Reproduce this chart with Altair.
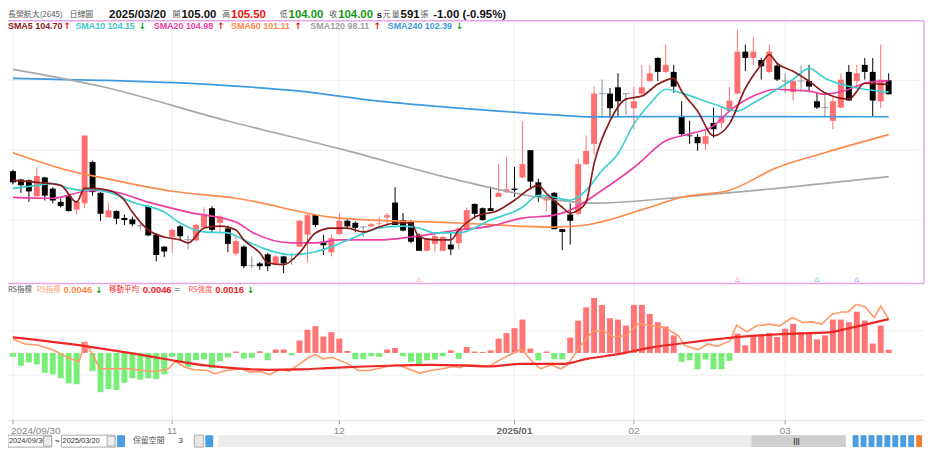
import altair as alt
import pandas as pd

# ---------------- data ----------------
opens = [98.50, 97.90, 97.85, 96.70, 98.05, 97.25, 96.30, 96.70, 95.75, 96.20,
         99.15, 96.95, 95.20, 95.65, 95.15, 95.05, 94.60, 96.00, 93.95, 93.10,
         93.80, 94.55, 93.60, 93.55, 94.50, 95.85, 94.80, 94.40, 92.60, 93.10,
         91.75, 91.90, 92.55, 91.80, 92.40, 92.20, 93.10, 93.95, 95.35, 93.45,
         92.70, 94.00, 94.95, 94.80, 94.50, 94.55, 94.75, 95.20, 96.25, 95.00,
         94.90, 93.95, 92.80, 93.30, 92.80, 93.25, 93.35, 94.30, 96.15, 95.85,
         95.85, 96.65, 97.00, 97.25, 98.05, 100.00, 97.70, 96.40, 96.95, 94.35,
         95.40, 95.45, 99.00, 100.45, 104.05, 104.05, 104.50, 104.05, 103.00, 104.05,
         104.95, 106.60, 105.60, 105.60, 102.45, 101.05, 100.95, 100.45, 101.95, 101.95,
         102.80, 104.05, 107.05, 106.60, 106.45, 105.60, 106.05, 104.95, 104.15, 104.95,
         104.95, 103.50, 103.05, 102.10, 103.05, 105.60, 104.95, 106.10, 105.60, 103.50,
         105.00]
highs = [98.60, 97.95, 97.90, 98.80, 98.10, 97.35, 96.55, 96.75, 96.40, 101.05,
         99.25, 97.00, 96.25, 95.70, 95.40, 95.25, 94.75, 96.05, 94.05, 93.15,
         94.40, 94.65, 93.90, 94.75, 95.90, 96.00, 95.35, 94.60, 93.90, 93.20,
         92.40, 92.00, 92.65, 92.50, 92.45, 92.60, 95.00, 95.50, 95.40, 93.95,
         93.95, 95.50, 95.10, 94.90, 94.55, 94.80, 95.25, 95.50, 97.35, 95.50,
         95.00, 94.05, 93.65, 93.95, 93.85, 94.05, 94.45, 95.90, 96.20, 95.90,
         97.40, 99.00, 99.50, 98.80, 102.05, 100.00, 97.95, 96.75, 97.00, 94.35,
         96.20, 99.40, 101.05, 104.55, 105.05, 104.45, 105.50, 104.10, 104.55, 106.10,
         106.10, 106.65, 107.55, 106.10, 103.50, 102.10, 101.15, 101.40, 103.05, 103.05,
         104.55, 108.60, 107.55, 108.10, 106.60, 107.55, 106.25, 105.50, 105.05, 106.05,
         106.10, 104.10, 104.05, 103.85, 105.50, 106.10, 106.10, 106.60, 106.60, 107.55,
         105.50]
lows = [97.55, 96.95, 96.30, 96.70, 96.40, 96.20, 95.90, 95.60, 95.40, 95.85,
        96.75, 94.95, 95.20, 94.70, 94.65, 94.55, 94.30, 93.85, 92.05, 92.35,
        92.65, 93.55, 92.90, 93.45, 94.40, 94.15, 94.15, 92.70, 92.45, 91.55,
        91.55, 91.45, 91.35, 91.80, 91.20, 91.80, 93.10, 91.95, 94.50, 92.50,
        92.40, 93.95, 94.45, 94.15, 93.80, 94.50, 94.55, 94.55, 94.65, 94.20,
        93.35, 92.80, 92.80, 92.75, 92.80, 92.50, 92.95, 94.30, 95.10, 94.95,
        95.65, 96.65, 96.95, 96.65, 98.00, 97.30, 96.30, 95.60, 94.35, 92.85,
        93.25, 95.35, 98.95, 99.70, 102.30, 102.30, 102.45, 102.55, 101.50, 103.85,
        104.90, 104.95, 105.50, 104.10, 101.00, 100.45, 99.95, 100.00, 100.90, 101.60,
        102.80, 104.00, 105.65, 106.10, 105.05, 105.50, 104.95, 104.10, 103.55, 104.20,
        104.20, 102.95, 102.45, 101.50, 103.00, 103.55, 104.45, 105.05, 102.45, 103.00,
        104.00]
closes = [97.70, 97.50, 97.05, 98.15, 96.75, 96.40, 96.00, 95.65, 96.30, 101.05,
          97.00, 95.45, 95.70, 95.10, 95.00, 94.70, 94.60, 93.90, 92.50, 92.75,
          94.30, 93.85, 93.60, 94.65, 95.35, 94.30, 95.25, 93.30, 93.50, 91.70,
          91.75, 91.70, 91.70, 92.40, 91.90, 92.20, 94.95, 95.35, 94.65, 93.20,
          93.70, 94.95, 94.55, 94.45, 94.50, 94.70, 94.80, 95.35, 94.65, 94.25,
          93.45, 92.80, 93.65, 93.85, 93.80, 92.90, 94.40, 95.70, 95.45, 95.00,
          95.65, 96.95, 97.20, 97.15, 99.00, 97.75, 96.65, 96.65, 94.35, 94.15,
          94.95, 99.00, 99.95, 104.05, 104.05, 103.00, 103.50, 104.05, 103.50, 104.50,
          105.50, 105.60, 106.10, 104.55, 101.15, 101.00, 100.50, 101.00, 101.50, 102.45,
          103.55, 107.05, 106.60, 107.05, 106.00, 107.05, 105.05, 104.95, 104.95, 104.95,
          104.55, 103.05, 103.05, 103.50, 105.05, 103.55, 105.50, 105.60, 103.55, 105.05,
          104.00]

sma5_i = [0, 3, 6, 8, 9, 10, 12, 14, 15, 17, 19, 21, 22, 24, 26, 28, 29, 31, 32, 34,
          36, 38, 40, 42, 44, 46, 48, 50, 51, 53, 55, 56, 58, 61, 63, 66, 67, 69, 70, 71,
          72, 73, 75, 77, 79, 81, 83, 84, 86, 88, 90, 92, 94, 95, 96, 98, 100, 102, 105, 107,
          109, 110]
sma5_v = [97.84, 97.70, 97.48, 96.28, 97.27, 97.27, 97.13, 96.42, 95.57, 94.29, 93.79, 93.58,
          93.37, 94.43, 94.57, 94.29, 93.58, 92.66, 91.95, 91.81, 92.66, 94.08, 94.43, 94.43,
          94.15, 94.50, 94.79, 94.79, 93.79, 93.58, 93.58, 94.29, 95.21, 95.71, 96.42, 97.48,
          96.91, 95.92, 95.50, 95.71, 96.28, 99.04, 102.09, 103.65, 103.87, 104.72, 105.14,
          104.22, 102.80, 101.03, 101.88, 104.43, 106.13, 106.84, 106.21, 105.64, 104.93,
          104.10, 103.65, 104.79, 104.72, 104.70]
sma10_i = [0, 3, 5, 7, 9, 10, 12, 15, 19, 21, 24, 27, 29, 32, 35, 38, 40, 43, 46, 49, 51, 53,
           56, 60, 64, 66, 68, 70, 72, 74, 76, 78, 80, 82, 84, 88, 91, 93, 96, 98, 100, 102,
           105, 107, 110]
sma10_v = [97.27, 97.48, 97.62, 97.27, 97.13, 97.20, 96.99, 96.28, 95.57, 94.79, 94.15, 94.08,
           93.58, 92.87, 92.52, 92.73, 93.09, 93.79, 94.43, 94.57, 94.43, 94.08, 94.08, 95.00,
           95.92, 96.77, 96.63, 96.42, 97.13, 98.55, 99.75, 101.88, 103.30, 104.36, 104.08,
           103.30, 102.80, 103.37, 104.36, 105.07, 105.85, 105.14, 104.57, 104.36, 104.15]
sma20_i = [0, 5, 9, 11, 13, 17, 22, 28, 30, 35, 38, 41, 46, 50, 56, 60, 64, 68, 70, 74, 78,
           82, 85, 88, 90, 93, 96, 98, 100, 102, 105, 107, 110]
sma20_v = [96.63, 96.56, 97.06, 97.13, 96.99, 96.28, 95.57, 94.86, 94.15, 93.37, 93.37, 93.58,
           93.58, 93.79, 94.29, 94.57, 95.14, 95.35, 95.71, 97.13, 98.76, 100.67, 101.17,
           101.74, 102.80, 103.87, 104.36, 104.29, 104.22, 104.01, 104.36, 104.79, 104.98]
sma60_i = [0, 7, 11, 20, 28, 41, 56, 68, 72, 80, 84, 90, 96, 102, 110]
sma60_v = [99.82, 98.55, 98.05, 97.06, 96.56, 95.14, 94.79, 94.50, 94.65, 95.92, 96.63, 97.13,
           98.76, 99.82, 101.11]
sma120_i = [0, 11, 27, 41, 56, 66, 73, 85, 96, 110]
sma120_v = [105.78, 104.57, 102.09, 100.11, 97.84, 96.63, 96.21, 96.70, 97.27, 98.11]
sma240_i = [0, 11, 24, 36, 46, 56, 61, 68, 73, 85, 110]
sma240_v = [105.14, 105.00, 104.72, 104.22, 103.51, 103.01, 102.80, 102.52, 102.38, 102.41, 102.39]

# RS panel (units of 0.0001)
rs_bar = [-20, -65, -48, -58, -100, -108, -128, -153, -158, 55,
          -92, -198, -182, -187, -150, -128, -135, -128, -132, -108,
          -20, -48, -70, -37, -32, -78, -42, -23, 7, -28,
          -25, 8, -37, 17, 17, -12, 63, 117, 135, 83,
          105, 72, 10, -32, -32, -17, -20, 17, 25, -17,
          -45, -65, -37, -33, -17, 13, -30, 30, 7, 5,
          13, 72, 100, 125, 168, 22, -38, 7, -32, -32,
          77, 163, 230, 277, 242, 175, 168, 138, 242, 242,
          197, 155, 133, 88, -45, -37, -82, -33, -82, -82,
          -40, 97, 38, 85, 92, 100, 80, 122, 147, 105,
          105, 68, 88, 168, 168, 155, 208, 163, 47, 138,
          16]
rs_line_i = [0, 1.5, 3.1, 5.2, 7.2, 8.3, 9.1, 10.1, 10.9, 12.6, 14.6, 16.3, 17.9, 19.5, 20.4,
             21.6, 22.8, 24.5, 25.3, 26.9, 28.6, 29.8, 31.0, 32.3, 33.5, 34.7, 36.0, 37.2, 38.0,
             39.0, 40.1, 42.1, 43.4, 44.6, 45.8, 47.5, 48.3, 49.9, 51.1, 52.4, 54.0, 55.3, 56.1,
             57.0, 59.8, 61.4, 63.9, 65.1, 66.3, 67.6, 68.8, 69.6, 71.3, 72.9, 74.1, 75.4, 77.0,
             78.6, 80.3, 81.9, 83.6, 84.4, 86.1, 87.3, 88.5, 90.1, 90.9, 92.2, 93.4, 95.1, 96.3,
             97.9, 99.2, 100.4, 101.6, 102.9, 104.1, 104.9, 105.9, 107.0, 108.2, 109.0, 110.0]
rs_line_v = [18.9, 12.2, 10.8, 3.2, -8.1, -11.7, 14.4, -3.6, -21.6, -21.6, -21.6, -23.9, -25.2,
             -21.6, -11.7, -19.4, -22.9, -23.9, -28.4, -23.9, -21.6, -26.1, -25.2, -29.7, -22.5,
             -24.8, -14.9, -5.9, -2.3, -8.1, -5.9, -14.9, -23.9, -23.9, -21.6, -17.1, -16.2,
             -22.5, -27.5, -23.9, -21.6, -18.5, -20.0, -16.2, -18.0, -8.1, 5.4, -10.4, -21.6,
             -16.2, -21.6, -17.1, 9.9, 30.2, 30.2, 22.1, 23.4, 40.1, 36.9, 34.7, 23.4, 9.9, 4.5,
             12.2, 9.0, 16.7, 37.8, 28.8, 36.9, 39.2, 36.9, 48.2, 41.4, 42.3, 39.2, 52.7, 55.8,
             55.8, 66.2, 63.0, 48.2, 63.9, 46.0]
rs_ma_i = [0, 9.3, 15.4, 19.5, 23.6, 27.7, 31.9, 36.0, 40.1, 44.2, 48.3, 52.4, 56.3, 59.8,
           63.9, 69.2, 72.1, 76.2, 80.3, 84.4, 90.6, 96.7, 102.5, 104.9, 110.0]
rs_ma_v = [21.2, 9.0, -1.4, -9.0, -16.2, -20.7, -23.0, -22.5, -20.3, -18.5, -17.1, -16.2, -17.0,
           -18.5, -14.9, -14.9, -8.1, -1.4, 7.6, 13.5, 21.2, 25.7, 27.9, 33.3, 46.0]

month_idx = [0, 20, 41, 63, 78, 97]
month_lbl = ["2024/09/30", "11", "12", "2025/01", "02", "03"]
price_grid = [95, 100, 105]
rs_grid = [112, -112]
event_idx = [51, 91, 101, 106]
event_col = ["#ffb0a0", "#ff90c8", "#60c8e8", "#b090e8"]

# ---------------- layout / scales ----------------
W, H = 928, 441
X_SC = alt.Scale(domain=[0, 110], range=[0, 893.3], zero=False, nice=False)
P_SC = alt.Scale(domain=[90, 110], range=[282.5, 0.5], zero=False, nice=False)
B_SC = alt.Scale(domain=[-250, 250], range=[396, 296], zero=False, nice=False)
L_SC = alt.Scale(domain=[-67.5, 67.5], range=[396, 296], zero=False, nice=False)
DIR_SC = alt.Scale(domain=["up", "down", "flat"], range=["#ff6f6f", "#000000", "#8a8a8a"])

CJK = "Noto Sans CJK TC"
NUM = "Liberation Sans"

n = len(opens)
cdf = pd.DataFrame({"i": list(range(n)), "o": opens, "h": highs, "l": lows, "c": closes})
cdf["dir"] = ["up" if c > o else ("down" if c < o else "flat") for o, c in zip(opens, closes)]

ma_series = [("SMA240", sma240_i, sma240_v), ("SMA120", sma120_i, sma120_v),
             ("SMA60", sma60_i, sma60_v), ("SMA20", sma20_i, sma20_v),
             ("SMA10", sma10_i, sma10_v), ("SMA5", sma5_i, sma5_v)]
ma_colors = {"SMA240": "#3d9be0", "SMA120": "#a8a8a8", "SMA60": "#ff8a4c",
             "SMA20": "#ec3ea0", "SMA10": "#3cd0d0", "SMA5": "#8a1c1c"}
rows = []
for name, ii, vv in ma_series:
    for a, b in zip(ii, vv):
        rows.append({"s": name, "i": a, "v": b})
madf = pd.DataFrame(rows)

rdf = pd.DataFrame({"i": list(range(n)), "v": rs_bar})
rdf["sg"] = ["p" if v >= 0 else "m" for v in rs_bar]
rldf = pd.DataFrame({"i": rs_line_i, "v": rs_line_v})
rmdf = pd.DataFrame({"i": rs_ma_i, "v": rs_ma_v})
mdf = pd.DataFrame({"i": month_idx, "t": month_lbl})
pgdf = pd.DataFrame({"p": price_grid})
rgdf = pd.DataFrame({"v": rs_grid})
evdf = pd.DataFrame({"i": event_idx, "c": event_col})

one = pd.DataFrame({"d": [0]})


def X(field="i"):
    return alt.X(f"{field}:Q", scale=X_SC, axis=None)


def label(s, x, y, color="#444444", size=10, weight="normal", font=NUM, align="left"):
    return alt.Chart(one).mark_text(text=s, color=color, fontSize=size, fontWeight=weight,
                                    font=font, align=align, baseline="middle").encode(
        x=alt.value(x), y=alt.value(y))


def box(x1, x2, y1, y2, fill, stroke=None):
    kw = {"fill": fill}
    if stroke:
        kw.update(stroke=stroke, strokeWidth=1)
    return alt.Chart(one).mark_rect(**kw).encode(
        x=alt.value(x1), x2=alt.value(x2), y=alt.value(y1), y2=alt.value(y2))


def hline(x1, x2, y, color, w=1):
    return alt.Chart(one).mark_rule(color=color, strokeWidth=w).encode(
        x=alt.value(x1), x2=alt.value(x2), y=alt.value(y))


def vline(x, y1, y2, color, w=1):
    return alt.Chart(one).mark_rule(color=color, strokeWidth=w).encode(
        x=alt.value(x), y=alt.value(y1), y2=alt.value(y2))


layers = []

# grids
layers.append(alt.Chart(pgdf).mark_rule(color="#efefef", strokeWidth=1).encode(
    y=alt.Y("p:Q", scale=P_SC, axis=None), x=alt.value(0), x2=alt.value(924)))
layers.append(alt.Chart(rgdf).mark_rule(color="#efefef", strokeWidth=1).encode(
    y=alt.Y("v:Q", scale=B_SC, axis=None), x=alt.value(0), x2=alt.value(924)))
layers.append(alt.Chart(mdf).mark_rule(color="#eeeeee", strokeWidth=1).encode(
    x=X(), y=alt.value(11), y2=alt.value(414)))

# borders
layers.append(hline(0, 924, 11, "#e6a6e6", 1.5))
layers.append(hline(0, 924, 276, "#e6a6e6", 1.5))
layers.append(vline(924, 11, 276, "#e6a6e6", 1.5))
layers.append(hline(0, 924, 414, "#dddddd", 1))

# candles
layers.append(alt.Chart(cdf).mark_rule(strokeWidth=1).encode(
    x=X(), y=alt.Y("l:Q", scale=P_SC, axis=None), y2="h:Q",
    color=alt.Color("dir:N", scale=DIR_SC, legend=None)))
layers.append(alt.Chart(cdf).transform_filter("datum.dir != 'flat'").mark_bar(size=6).encode(
    x=X(), y=alt.Y("o:Q", scale=P_SC, axis=None), y2="c:Q",
    color=alt.Color("dir:N", scale=DIR_SC, legend=None)))
layers.append(alt.Chart(cdf).transform_filter("datum.dir == 'flat'").mark_tick(
    orient="horizontal", size=7, thickness=1.2, color="#8a8a8a").encode(
    x=X(), y=alt.Y("c:Q", scale=P_SC, axis=None)))

# moving averages
layers.append(alt.Chart(madf).mark_line(strokeWidth=1.7, interpolate="monotone").encode(
    x=X(), y=alt.Y("v:Q", scale=P_SC, axis=None),
    color=alt.Color("s:N", scale=alt.Scale(domain=list(ma_colors.keys()),
                                           range=list(ma_colors.values())), legend=None),
    detail="s:N"))

# event markers at the foot of the price panel
layers.append(alt.Chart(evdf).mark_point(shape="triangle-up", size=22, filled=False,
                                         strokeWidth=1).encode(
    x=X(), y=alt.value(272), color=alt.Color("c:N", scale=None)))

# RS panel
layers.append(alt.Chart(rdf).mark_bar(size=6).encode(
    x=X(), y=alt.Y("v:Q", scale=B_SC, axis=None), y2=alt.datum(0),
    color=alt.Color("sg:N", scale=alt.Scale(domain=["p", "m"], range=["#ff7474", "#78ee78"]),
                    legend=None)))
layers.append(alt.Chart(rldf).mark_line(color="#ff9a66", strokeWidth=1.6).encode(
    x=X(), y=alt.Y("v:Q", scale=L_SC, axis=None)))
layers.append(alt.Chart(rmdf).mark_line(color="#ee2727", strokeWidth=2.2, interpolate="monotone").encode(
    x=X(), y=alt.Y("v:Q", scale=L_SC, axis=None)))

# x axis ticks and labels
layers.append(alt.Chart(mdf).mark_rule(color="#999999").encode(
    x=X(), y=alt.value(414), y2=alt.value(418)))
layers.append(alt.Chart(mdf).transform_filter("datum.i > 0 && datum.i != 63").mark_text(
    fontSize=10, font=NUM, color="#888888", baseline="middle").encode(
    x=X(), y=alt.value(425), text="t:N"))
layers.append(alt.Chart(mdf).transform_filter("datum.i == 63").mark_text(
    fontSize=10, font=NUM, color="#666666", fontWeight="bold", baseline="middle").encode(
    x=X(), y=alt.value(425), text="t:N"))
layers.append(alt.Chart(mdf).transform_filter("datum.i == 0").mark_text(
    fontSize=10, font=NUM, color="#888888", baseline="middle", align="left", dx=-2).encode(
    x=X(), y=alt.value(425), text="t:N"))

# header
HY = 5
HC = "#555555"
layers += [
    label("長榮航太(2645)", 0, HY, HC, 8, font=CJK),
    label("日線圖", 62, HY, HC, 8, font=CJK),
    label("2025/03/20", 102, HY, "#111111", 11.5, "bold"),
    label("開", 166, HY, HC, 8, font=CJK),
    label("105.00", 175, HY, "#111111", 11.5, "bold"),
    label("高", 216, HY, HC, 8, font=CJK),
    label("105.50", 225, HY, "#ee1111", 11.5, "bold"),
    label("低", 274, HY, HC, 8, font=CJK),
    label("104.00", 283, HY, "#119911", 11.5, "bold"),
    label("收", 324, HY, HC, 8, font=CJK),
    label("104.00", 333, HY, "#119911", 11.5, "bold"),
    label("s", 372, HY, "#111111", 9.5, "bold"),
    label("元", 378, HY, HC, 8, font=CJK),
    label("量", 387, HY, HC, 8, font=CJK),
    label("591", 396, HY, "#111111", 11.5, "bold"),
    label("張", 416, HY, HC, 8, font=CJK),
    label("-1.00 (-0.95%)", 429, HY, "#111111", 11.5, "bold"),
]

# MA legend
LY = 16
leg = [("SMA5 104.70", 0, "#8a1c1c", 56, "↑", "#ee1111"),
       ("SMA10 104.15", 68, "#3cc8c8", 132, "↓", "#119911"),
       ("SMA20 104.98", 147, "#ec3ea0", 211, "↑", "#ee1111"),
       ("SMA60 101.11", 225, "#ff8a4c", 289, "↑", "#ee1111"),
       ("SMA120 98.11", 305, "#a0a0a0", 369, "↑", "#ee1111"),
       ("SMA240 102.39", 383, "#3d9be0", 452, "↓", "#119911")]
for t, x, c, ax, a, ac in leg:
    layers.append(label(t, x, LY, c, 9, "bold"))
    layers.append(label(a, ax, LY, ac, 9, "bold", font="DejaVu Sans"))

# RS legend
RY = 283
layers += [
    label("RS指標", 0, RY, "#555555", 7.5, font=CJK),
    label("RS指標", 29, RY, "#ffa070", 7.5, font=CJK),
    label("0.0046", 56, RY, "#ff8a4c", 9.5, "bold"),
    label("↓", 88, RY, "#119911", 9, "bold", font="DejaVu Sans"),
    label("移動平均", 102, RY, "#ee2222", 7.5, font=CJK),
    label("0.0046", 136, RY, "#ee2222", 9.5, "bold"),
    label("=", 168, RY, "#999999", 9.5, "bold"),
    label("RS強度", 182, RY, "#ff5a5a", 7.5, font=CJK),
    label("0.0016", 209, RY, "#ee2222", 9.5, "bold"),
    label("↓", 241, RY, "#119911", 9, "bold", font="DejaVu Sans"),
]

# bottom toolbar
TY1, TY2 = 429, 441
layers += [
    box(0, 44, TY1, TY2, "#ffffff", "#aaaaaa"),
    label("2024/09/30", 1, 435, "#333333", 7.5),
    box(36, 44, TY1 + 1, TY2 - 1, "#eeeeee", "#aaaaaa"),
    label("~", 47, 435, "#333333", 9),
    box(54, 108, TY1, TY2, "#ffffff", "#aaaaaa"),
    label("2025/03/20", 55, 435, "#333333", 7.5),
    box(100, 108, TY1 + 1, TY2 - 1, "#eeeeee", "#aaaaaa"),
    box(110, 118, TY1, TY2, "#4a9ee0"),
    label("保留空間", 126, 435, "#555555", 8, font=CJK),
    label("3", 172, 435, "#333333", 8),
    box(188, 197, TY1, TY2, "#e6e6e6", "#aaaaaa"),
    box(199, 207, TY1, TY2, "#4a9ee0"),
    box(212, 845, TY1, TY2, "#ececec"),
    box(750, 845, TY1, TY2, "#cfcfcf"),
    label("|||", 792, 435, "#444444", 8, "bold"),
    box(852, 858, TY1, TY2, "#4a9ee0"),
    box(860, 866, TY1, TY2, "#4a9ee0"),
    box(868, 874, TY1, TY2, "#4a9ee0"),
    box(876, 882, TY1, TY2, "#4a9ee0"),
    box(884, 890, TY1, TY2, "#4a9ee0"),
    box(892, 898, TY1, TY2, "#4a9ee0"),
    box(900, 906, TY1, TY2, "#4a9ee0"),
    box(908, 914, TY1, TY2, "#4a9ee0"),
    box(916, 922, TY1, TY2, "#f08030"),
]

chart = alt.layer(*layers).resolve_scale(y="independent", color="independent").properties(
    width=W, height=H, autosize=alt.AutoSizeParams(type="none"), padding=0,
    background="white").configure_view(stroke=None)

chart.save("out.html", embed_options={"renderer": "svg", "actions": False})
